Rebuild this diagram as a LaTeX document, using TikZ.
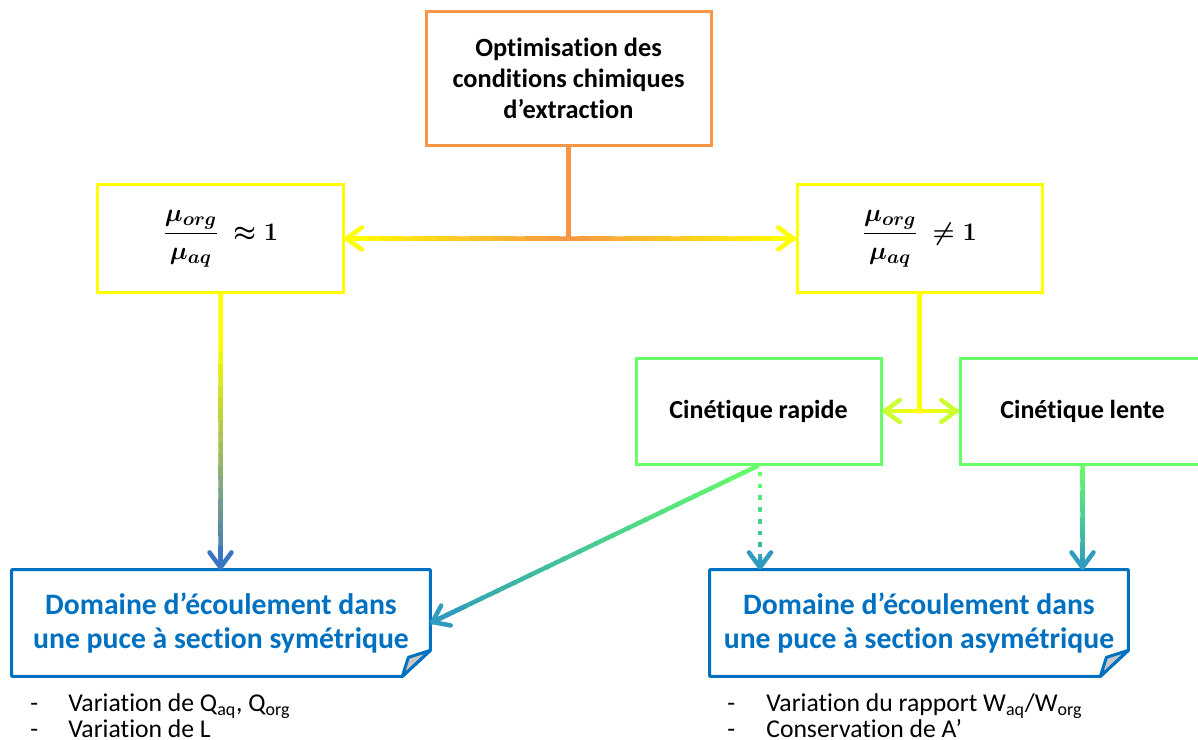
\documentclass[tikz,border=0pt]{standalone}
\usepackage{amsmath}
\usepackage{amssymb}
\usepackage{fontspec}
\setmainfont{Carlito}[Ligatures=NoCommon]
\usetikzlibrary{arrows.meta, positioning, calc}

\definecolor{optorange}{HTML}{F79646}
\definecolor{viscyellow}{HTML}{FFFF00}
\definecolor{cingreen}{HTML}{66FF66}
\definecolor{domblue}{HTML}{0070C0}
\definecolor{tipblue}{HTML}{3A75C4}
\definecolor{tipteal}{HTML}{2E9CBC}
\definecolor{tiplime}{HTML}{CCFF33}
\definecolor{foldgrey}{HTML}{C8C8C8}

% connector whose colour runs from #3 to #4
\newcommand{\gradlink}[4]{%
  \foreach \i [evaluate=\i as \a using {max(\i/20-0.01,0)}, evaluate=\i as \b using (\i+1)/20, evaluate=\i as \p using 100-5*\i-2.5] in {0,...,19}
    \draw[flowline, color=#3!\p!#4] ($#1!\a!#2$) -- ($#1!\b!#2$);
}
\newcommand{\gradarrow}[4]{%
  \gradlink{#1}{#2}{#3}{#4}
  \draw[flowline, barbtip, color=#4] ($#1!0.9!#2$) -- #2;
}
% blue box with the folded corner
\newcommand{\foldbox}[1]{%
  \draw[domline] (#1.north west) -- (#1.north east) -- ([yshift=5.2mm]#1.south east)
    -- ([xshift=-5.6mm]#1.south east) -- (#1.south west) -- cycle;
  \filldraw[domline, fill=foldgrey] ([yshift=5.2mm]#1.south east) -- ([xshift=-5.6mm]#1.south east)
    -- ([xshift=-4.4mm, yshift=3.8mm]#1.south east) -- cycle;
}

\begin{document}
\begin{tikzpicture}[
    x=0.2mm, y=-0.2mm,
    box/.style={draw, line width=0.6mm, minimum width=49mm, minimum height=21.4mm, align=center, inner sep=0pt},
    optbox/.style={box, draw=optorange, minimum width=57mm, minimum height=26.6mm, font=\fontsize{15}{17.6}\selectfont\bfseries},
    viscbox/.style={box, draw=viscyellow, font=\fontsize{15.5}{18}\selectfont\boldmath},
    cinbox/.style={box, draw=cingreen, minimum height=21.2mm, font=\fontsize{14.8}{16}\selectfont\bfseries},
    dombox/.style={minimum width=83.6mm, minimum height=21.2mm, align=center, inner sep=0pt, text=domblue, font=\fontsize{16.9}{19.4}\selectfont\bfseries},
    domline/.style={draw=domblue, line width=0.6mm, line join=round},
    listtxt/.style={align=left, inner sep=0pt, font=\fontsize{14.6}{14.8}\selectfont},
    flowline/.style={line width=0.9mm},
    barbtip/.style={-{Straight Barb[length=3mm, width=4.4mm, line cap=round, line join=round]}},
]
\useasboundingbox (0,0) rectangle (1198,740);

\node[optbox] (opt) at (568.5,78.5) {Optimisation des\\conditions chimiques\\d’extraction};
\node[viscbox] (visc1) at (220.5,238.5) {$\dfrac{\mu_{org}}{\mu_{aq}}\ \approx 1$};
\node[viscbox] (visc2) at (919.5,238.5) {$\dfrac{\mu_{org}}{\mu_{aq}}\ \neq 1$};
\node[cinbox] (rapide) at (758.5,411) {Cinétique rapide};
\node[cinbox] (lente) at (1082.5,411) {Cinétique lente};
\node[dombox] (sym) at (221,623) {Domaine d’écoulement dans\\une puce à section symétrique};
\node[dombox] (asym) at (919,623) {Domaine d’écoulement dans\\une puce à section asymétrique};
\foldbox{sym}
\foldbox{asym}

\node[listtxt, anchor=west] (symlist) at (30,716)
  {\makebox[7.6mm][l]{-}Variation de Q\textsubscript{aq}, Q\textsubscript{org}\\\makebox[7.6mm][l]{-}Variation de L};
\node[listtxt, anchor=west] (asymlist) at (727,716)
  {\makebox[7.8mm][l]{-}Variation du rapport W\textsubscript{aq}/W\textsubscript{org}\\\makebox[7.8mm][l]{-}Conservation de A’};

% split after the optimisation
\coordinate (split) at (opt.south |- visc1.east);
\draw[flowline, optorange] (opt.south) -- (split);
\gradarrow{(split)}{(visc1.east)}{optorange}{viscyellow}
\gradarrow{(split)}{(visc2.west)}{optorange}{viscyellow}

% kinetics
\coordinate (kin) at (visc2.south |- rapide.east);
\draw[flowline, viscyellow] (visc2.south) -- (kin);
\gradarrow{(kin)}{(rapide.east)}{viscyellow}{tiplime}
\gradarrow{(kin)}{(lente.west)}{viscyellow}{tiplime}

% towards the chips
\coordinate (symtop) at (visc1.south |- sym.north);
\coordinate (symmid) at ($(visc1.south)!0.18!(symtop)$);
\draw[flowline, viscyellow] (visc1.south) -- (symmid);
\gradarrow{(symmid)}{(symtop)}{viscyellow}{tipblue}
\gradarrow{(rapide.south)}{(sym.east)}{cingreen}{tipteal}
\gradarrow{(lente.south)}{(lente.south |- asym.north)}{cingreen}{tipteal}

% dotted link
\coordinate (dottop) at ([xshift=0.3mm]rapide.south);
\coordinate (dotbot) at (dottop |- asym.north);
\foreach \i [evaluate=\i as \a using 0.06+\i*0.113, evaluate=\i as \b using 0.06+\i*0.113+0.045, evaluate=\i as \p using 100-12*\i] in {0,...,7}
  \draw[flowline, color=cingreen!\p!tipteal] ($(dottop)!\a!(dotbot)$) -- ($(dottop)!\b!(dotbot)$);
\draw[flowline, barbtip, tipteal] ($(dottop)!0.88!(dotbot)$) -- (dotbot);
\end{tikzpicture}
\end{document}
